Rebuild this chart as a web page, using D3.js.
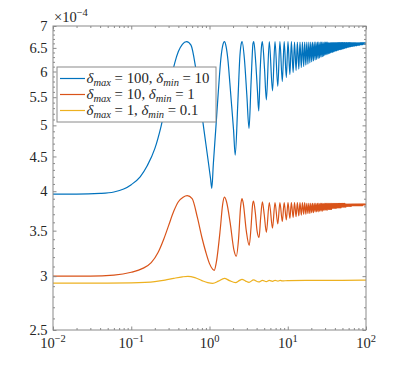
<!DOCTYPE html>
<html>
<head>
<meta charset="utf-8">
<script src="https://cdn.jsdelivr.net/npm/d3@7"></script>
<style>
  body { margin: 0; background: #fff; }
  svg { display: block; }
  text { font-family: "Liberation Serif", "DejaVu Serif", serif; fill: #262626; }
</style>
</head>
<body>
<div id="chart"></div>
<script>
// all values in units of 1e-4
var xTicks = [0.01, 0.1, 1, 10, 100];
var xTickExp = ["\u22122", "\u22121", "0", "1", "2"];
var yTicks = [2.5, 3, 3.5, 4, 4.5, 5, 5.5, 6, 6.5, 7];
var yTickLabels = ["2.5", "3", "3.5", "4", "4.5", "5", "5.5", "6", "6.5", "7"];

var legendMax = ["100", "10", "1"];
var legendMin = ["10", "1", "0.1"];
var colors = ["#0072BD", "#D95319", "#EDB120"];

// slow start + first five humps, read point by point
var blueHeadX = [0.01,0.02,0.04,0.06,0.08,0.1,0.13,0.16,0.2,0.24,0.28,0.32,0.36,0.4,0.45,0.51,0.58,0.66,0.75,0.85,0.95,1.03,1.07,1.12,1.2,1.3,1.4,1.48,1.55,1.63,1.72,1.82,1.93,2.03,2.13,2.3,2.45,2.55,2.61,2.8,3.0,3.2,3.4,3.6,3.68,3.9,4.1,4.26,4.45,4.65,4.74,5.05,5.33];
var blueHeadV = [3.96,3.96,3.97,3.99,4.03,4.09,4.2,4.36,4.62,4.98,5.4,5.83,6.18,6.42,6.58,6.64,6.56,6.11,5.48,4.92,4.48,4.18,4.04,4.39,4.92,5.63,6.28,6.56,6.64,6.53,6.24,5.77,5.3,4.92,4.52,5.39,6.34,6.6,6.64,6.24,5.54,4.95,5.79,6.6,6.64,6.18,5.62,5.25,6.05,6.58,6.64,6.05,5.45];

var orangeHeadX = [0.01,0.03,0.06,0.1,0.14,0.18,0.22,0.26,0.3,0.35,0.4,0.46,0.52,0.6,0.7,0.8,0.9,1.0,1.1,1.15,1.22,1.37,1.47,1.55,1.65,1.84,2.05,2.2,2.35,2.5,2.6,2.7,2.95,3.22,3.4,3.55,3.65,3.85,4.05,4.3,4.5,4.74,5.0,5.33];
var orangeHeadV = [3.0,3.0,3.01,3.04,3.08,3.14,3.25,3.4,3.56,3.74,3.86,3.92,3.94,3.9,3.66,3.42,3.25,3.13,3.07,3.06,3.14,3.51,3.82,3.92,3.86,3.59,3.28,3.21,3.4,3.8,3.9,3.84,3.5,3.33,3.55,3.82,3.87,3.72,3.5,3.42,3.65,3.86,3.7,3.48];

var yellowX = [0.01,0.05,0.1,0.15,0.2,0.27,0.35,0.45,0.53,0.65,0.8,0.95,1.1,1.3,1.55,1.8,2.15,2.4,2.6,2.9,3.2,3.65,4.26,4.75,5.33,5.8,6.4,6.9,7.5,8.0,8.5,10,20,50,100];
var yellowV = [2.93,2.93,2.932,2.937,2.945,2.96,2.978,2.993,2.998,2.985,2.955,2.935,2.928,2.95,2.978,2.955,2.935,2.955,2.968,2.95,2.938,2.962,2.942,2.958,2.945,2.957,2.948,2.958,2.95,2.958,2.952,2.956,2.957,2.958,2.96];

// dense part: positions of the later peaks (n=5..92) and troughs (n=6..93)
var oscPeakX = [5.81,6.87,7.94,9.0,10.07,11.13,12.2,13.26,14.33,15.39,16.46,17.52,18.59,19.65,20.72,21.78,22.85,23.91,24.98,26.04,27.11,28.17,29.24,30.3,31.37,32.43,33.5,34.56,35.63,36.69,37.76,38.82,39.89,40.95,42.02,43.08,44.15,45.21,46.28,47.34,48.41,49.47,50.54,51.6,52.67,53.73,54.8,55.86,56.93,57.99,59.06,60.12,61.19,62.25,63.32,64.38,65.45,66.51,67.58,68.64,69.71,70.77,71.84,72.9,73.97,75.03,76.1,77.16,78.23,79.29,80.36,81.42,82.49,83.55,84.62,85.68,86.75,87.81,88.88,89.94,91.01,92.07,93.14,94.2,95.27,96.33,97.4,98.46];
var oscTroughX = [6.39,7.46,8.52,9.59,10.65,11.72,12.78,13.85,14.91,15.98,17.04,18.11,19.17,20.24,21.3,22.37,23.43,24.5,25.56,26.63,27.69,28.76,29.82,30.89,31.95,33.02,34.08,35.15,36.21,37.28,38.34,39.41,40.47,41.54,42.6,43.67,44.73,45.8,46.86,47.93,48.99,50.06,51.12,52.19,53.25,54.32,55.38,56.45,57.51,58.58,59.64,60.71,61.77,62.84,63.9,64.97,66.03,67.1,68.16,69.23,70.29,71.36,72.42,73.49,74.55,75.62,76.68,77.75,78.81,79.88,80.94,82.01,83.07,84.14,85.2,86.27,87.33,88.4,89.46,90.53,91.59,92.66,93.72,94.79,95.85,96.92,97.98,99.05];

var bluePeakV = [6.64,6.64,6.64,6.64,6.64,6.64,
  6.63,6.63,6.63,6.63,6.63,6.63,6.63,6.63,6.63,6.63,6.63,6.63,6.63,6.63,6.63,6.63,6.63,6.63,6.63,6.63,
  6.62,6.62,6.62,6.62,6.62,6.62,6.62,6.62,6.62,6.62,6.62,6.62,6.62,6.62,6.62,6.62,6.62,6.62,6.62,6.62,6.62,6.62,6.62,6.62,6.62,6.62,6.62,6.62,6.62,6.62,
  6.61,6.61,6.61,6.61,6.61,6.61,6.61,6.61,6.61,6.61,6.61,6.61,6.61,6.61,6.61,6.61,6.61,6.61,6.61,6.61,6.61,6.61,6.61,6.61,6.61,6.61,6.61,6.61,6.61,6.61,6.61,6.61];
var blueTroughV = [5.62,5.71,5.80,5.88,5.94,
  5.98,6.02,6.05,6.08,6.10,6.13,6.15,6.18,6.20,6.22,
  6.24,6.25,6.27,6.28,6.30,6.31,6.32,6.34,6.35,6.36,
  6.37,6.38,6.39,6.40,6.40,6.41,6.42,6.43,6.43,6.44,
  6.45,6.45,6.46,6.46,6.47,6.47,6.48,6.48,6.49,6.49,
  6.50,6.50,6.50,6.51,6.51,6.51,6.52,6.52,6.52,6.53,
  6.53,6.53,6.53,6.54,6.54,6.54,6.54,6.55,6.55,6.55,
  6.55,6.55,6.56,6.56,6.56,6.56,6.56,6.56,6.57,6.57,
  6.57,6.57,6.57,6.57,6.57,6.58,6.58,6.58,6.58,6.58,6.58,6.58,6.58];
var blueEnd = 6.59;

var orangePeakV = [3.85,3.85,3.85,3.85,3.85,3.85,3.85,3.85,3.85,3.85,3.85,
  3.84,3.84,3.84,3.84,3.84,3.84,3.84,3.84,3.84,3.84,3.84,3.84,3.84,3.84,3.84,3.84,3.84,3.84,3.84,3.84,3.84,3.84,3.84,3.84,3.84,3.84,3.84,3.84,3.84,3.84,3.84,3.84,3.84,3.84,3.84,
  3.83,3.83,3.83,3.83,3.83,3.83,3.83,3.83,3.83,3.83,3.83,3.83,3.83,3.83,3.83,3.83,3.83,3.83,3.83,3.83,3.83,3.83,3.83,3.83,3.83,3.83,3.83,3.83,3.83,3.83,3.83,3.83,3.83,3.83,3.83,3.83,3.83,3.83,3.83,3.83,3.83,3.83];
var orangeTroughV = [3.53,3.58,3.61,3.63,3.65,
  3.66,3.67,3.68,3.69,3.70,3.70,3.71,3.71,3.72,3.72,
  3.73,3.73,3.73,3.74,3.74,3.74,3.75,3.75,3.75,3.75,
  3.76,3.76,3.76,3.76,3.77,3.77,3.77,3.77,3.77,3.78,
  3.78,3.78,3.78,3.78,3.78,3.79,3.79,3.79,3.79,3.79,
  3.79,3.79,3.80,3.80,3.80,3.80,3.80,3.80,3.80,3.80,
  3.80,3.81,3.81,3.81,3.81,3.81,3.81,3.81,3.81,3.81,
  3.81,3.81,3.81,3.81,3.81,3.81,3.81,3.81,3.81,3.81,
  3.81,3.81,3.81,3.81,3.81,3.82,3.82,3.82,3.82,3.82,3.82,3.82,3.82];
var orangeEnd = 3.82;

function buildSeries(headX, headV, peakV, troughV, endV) {
  var pts = headX.map(function(x, i) { return [x, headV[i]]; });
  if (peakV) {
    for (var i = 0; i < oscPeakX.length; i++) {
      pts.push([oscPeakX[i], peakV[i]]);
      pts.push([oscTroughX[i], troughV[i]]);
    }
    pts.push([100, endV]);
  }
  return pts;
}

var series = [
  buildSeries(blueHeadX, blueHeadV, bluePeakV, blueTroughV, blueEnd),
  buildSeries(orangeHeadX, orangeHeadV, orangePeakV, orangeTroughV, orangeEnd),
  buildSeries(yellowX, yellowV)
];

var width = 405, height = 373;
var padL = 53, padR = 366, padT = 26, padB = 330;

var svg = d3.select("#chart").append("svg")
  .attr("width", width)
  .attr("height", height);

var x = d3.scaleLog().domain([0.01, 100]).range([padL, padR]);
var y = d3.scaleLog().domain([2.5, 7]).range([padB, padT]);

var line = d3.line()
  .x(function(d) { return x(d[0]); })
  .y(function(d) { return y(d[1]); })
  .curve(d3.curveMonotoneX);

svg.append("clipPath").attr("id", "clip")
  .append("rect").attr("x", padL).attr("y", padT)
  .attr("width", padR - padL).attr("height", padB - padT);

svg.append("g").attr("clip-path", "url(#clip)")
  .selectAll("path")
  .data(series)
  .enter().append("path")
  .attr("d", line)
  .attr("fill", "none")
  .attr("stroke", function(d, i) { return colors[i]; })
  .attr("stroke-width", 1.2)
  .attr("stroke-linejoin", "round");

// axes box + inward ticks on all four sides
var axisColor = "#8a8a8a";
var xMinor = x.ticks().filter(function(v) { return xTicks.indexOf(v) < 0; });
var yMinor = d3.range(25, 71).map(function(v) { return v / 10; })
  .filter(function(v) { return yTicks.indexOf(v) < 0; });

svg.append("g").attr("transform", "translate(0," + padB + ")")
  .call(d3.axisBottom(x).tickValues(xTicks).tickSize(-3.5).tickFormat(""));
svg.append("g").attr("transform", "translate(0," + padB + ")")
  .call(d3.axisBottom(x).tickValues(xMinor).tickSize(-2).tickFormat(""));
svg.append("g").attr("transform", "translate(0," + padT + ")")
  .call(d3.axisTop(x).tickValues(xTicks).tickSize(-3.5).tickFormat(""));
svg.append("g").attr("transform", "translate(0," + padT + ")")
  .call(d3.axisTop(x).tickValues(xMinor).tickSize(-2).tickFormat(""));
svg.append("g").attr("transform", "translate(" + padL + ",0)")
  .call(d3.axisLeft(y).tickValues(yTicks).tickSize(-3.5).tickFormat(""));
svg.append("g").attr("transform", "translate(" + padL + ",0)")
  .call(d3.axisLeft(y).tickValues(yMinor).tickSize(-2).tickFormat(""));
svg.append("g").attr("transform", "translate(" + padR + ",0)")
  .call(d3.axisRight(y).tickValues(yTicks).tickSize(-3.5).tickFormat(""));
svg.append("g").attr("transform", "translate(" + padR + ",0)")
  .call(d3.axisRight(y).tickValues(yMinor).tickSize(-2).tickFormat(""));

svg.selectAll(".domain").remove();
svg.selectAll(".tick line").attr("stroke", axisColor);

svg.append("rect")
  .attr("x", padL).attr("y", padT)
  .attr("width", padR - padL).attr("height", padB - padT)
  .attr("fill", "none")
  .attr("stroke", axisColor)
  .attr("stroke-width", 1);

// tick labels
var xl = svg.append("g").selectAll("text")
  .data(xTicks)
  .enter().append("text")
  .attr("x", function(d) { return x(d); })
  .attr("y", 348)
  .attr("text-anchor", "middle")
  .style("font-size", "14.5px");
xl.append("tspan").text("10");
xl.append("tspan")
  .attr("dy", -6)
  .style("font-size", "10.5px")
  .text(function(d, i) { return xTickExp[i]; });

svg.append("g").selectAll("text")
  .data(yTicks)
  .enter().append("text")
  .attr("x", 47.5)
  .attr("y", function(d) { return y(d); })
  .attr("dy", "0.35em")
  .attr("text-anchor", "end")
  .style("font-size", "14.5px")
  .text(function(d, i) { return yTickLabels[i]; });

var ex = svg.append("text")
  .attr("x", 54).attr("y", 21.5)
  .style("font-size", "14.5px");
ex.append("tspan").text("\u00d710");
ex.append("tspan").attr("dy", -6).style("font-size", "10.5px").text("\u22124");

// legend
var lg = svg.append("g");
lg.append("rect")
  .attr("x", 57).attr("y", 67)
  .attr("width", 159).attr("height", 55)
  .attr("fill", "#fff")
  .attr("stroke", axisColor)
  .attr("stroke-width", 1);

var rows = lg.selectAll("g.row")
  .data(legendMax)
  .enter().append("g")
  .attr("class", "row")
  .attr("transform", function(d, i) { return "translate(0," + (78.5 + i * 16) + ")"; });

rows.append("line")
  .attr("x1", 60).attr("x2", 85)
  .attr("stroke", function(d, i) { return colors[i]; })
  .attr("stroke-width", 1.2);

var lt = rows.append("text")
  .attr("x", 86.5).attr("y", 4.5)
  .style("font-size", "14.8px");
lt.append("tspan").style("font-style", "italic").text("\u03b4");
lt.append("tspan").style("font-style", "italic").style("font-size", "10.5px").attr("dy", 3).text("max");
lt.append("tspan").attr("dy", -3).text(function(d) { return " = " + d + ", "; });
lt.append("tspan").style("font-style", "italic").text("\u03b4");
lt.append("tspan").style("font-style", "italic").style("font-size", "10.5px").attr("dy", 3).text("min");
lt.append("tspan").attr("dy", -3).text(function(d, i) { return " = " + legendMin[i]; });
</script>
</body>
</html>
